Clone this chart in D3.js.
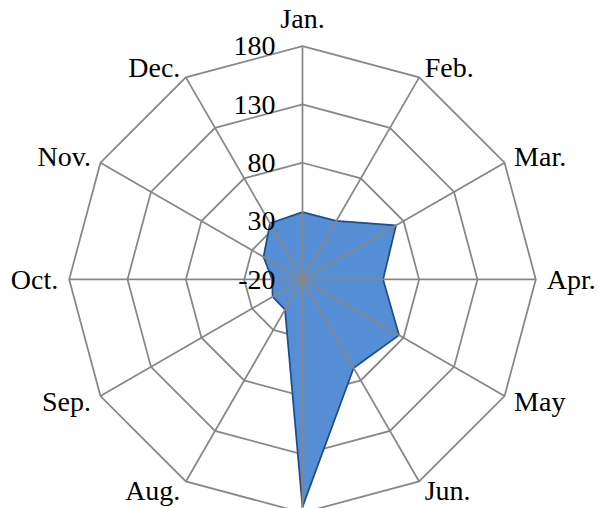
<!DOCTYPE html>
<html>
<head>
<meta charset="utf-8">
<script src="https://cdn.jsdelivr.net/npm/d3@7"></script>
<style>
  body { margin: 0; background: #fff; }
  text { font-family: "Liberation Serif", "Times New Roman", serif; fill: #000; }
</style>
</head>
<body>
<div id="chart"></div>
<script>
////////////// Data
var months = ["Jan.", "Feb.", "Mar.", "Apr.", "May", "Jun.", "Jul.", "Aug.", "Sep.", "Oct.", "Nov.", "Dec."];
var values = [37.7, 37.9, 72.6, 49.1, 75.6, 67.7, 175, 10, 9.6, 6, 18.6, 35.6];
var ticks = [-20, 30, 80, 130, 180];

var width = 598, height = 508;
var cx = 302.5, cy = 279.4, R = 233.3;

var svg = d3.select("#chart")
    .append("svg")
    .attr("width", width)
    .attr("height", height);

var g = svg.append("g")
    .attr("transform", "translate(" + cx + "," + cy + ")");

var r = d3.scaleLinear()
    .domain([ticks[0], ticks[ticks.length - 1]])
    .range([0, R]);

var angle = d3.scalePoint()
    .domain(months)
    .range([0, 2 * Math.PI * (months.length - 1) / months.length]);

function pt(m, v) {
    var a = angle(m);
    return [Math.sin(a) * r(v), -Math.cos(a) * r(v)];
}

var gridColor = "#878787";

// rings
g.selectAll(".ring")
    .data(ticks.slice(1))
    .enter()
    .append("polygon")
    .attr("class", "ring")
    .attr("points", function(t) {
        return months.map(function(m) { return pt(m, t).join(","); }).join(" ");
    })
    .attr("fill", "none")
    .attr("stroke", gridColor)
    .attr("stroke-width", 1.75);

// series
g.append("polygon")
    .attr("points", months.map(function(m, i) { return pt(m, values[i]).join(","); }).join(" "))
    .attr("fill", "#558ed5")
    .attr("stroke", "#1f4e8c")
    .attr("stroke-width", 1.75)
    .attr("stroke-linejoin", "round");

// spokes on top
g.selectAll(".spoke")
    .data(months)
    .enter()
    .append("line")
    .attr("class", "spoke")
    .attr("x1", 0)
    .attr("y1", 0)
    .attr("x2", function(m) { return pt(m, ticks[ticks.length - 1])[0]; })
    .attr("y2", function(m) { return pt(m, ticks[ticks.length - 1])[1]; })
    .attr("stroke", gridColor)
    .attr("stroke-width", 1.75);

// value labels
g.selectAll(".tick")
    .data(ticks)
    .enter()
    .append("text")
    .attr("class", "tick")
    .attr("x", -27)
    .attr("y", function(t) { return -r(t); })
    .attr("dy", "0.33em")
    .attr("text-anchor", "end")
    .style("font-size", "28px")
    .text(function(t) { return t; });

// month labels (the one below the chart falls outside the picture, so skip it)
var gap = 11;
var labelPos = months.map(function(m) {
    var a = angle(m), s = Math.sin(a), c = Math.cos(a);
    var p = pt(m, ticks[ticks.length - 1]);
    var anchor = Math.abs(s) < 0.01 ? "middle" : (s > 0 ? "start" : "end");
    var extra = anchor === "middle" ? 16 : 0;
    return { name: m, x: p[0] + gap * s, y: p[1] - (gap + extra) * c, anchor: anchor };
}).filter(function(d) { return cy + d.y < height - 10; });

g.selectAll(".cat")
    .data(labelPos)
    .enter()
    .append("text")
    .attr("class", "cat")
    .attr("x", function(d) { return d.x; })
    .attr("y", function(d) { return d.y; })
    .attr("dy", "0.33em")
    .attr("text-anchor", function(d) { return d.anchor; })
    .style("font-size", "28px")
    .text(function(d) { return d.name; });
</script>
</body>
</html>
